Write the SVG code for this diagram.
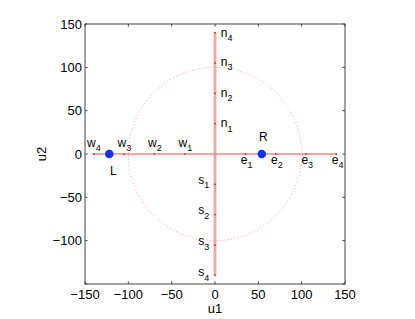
<svg xmlns="http://www.w3.org/2000/svg" width="415" height="319" viewBox="0 0 415 319">
<style>
.ax{fill:none;stroke:#444;stroke-width:1}
.tk{stroke:#444;stroke-width:1}
.tl{font-family:"Liberation Sans",Arial,sans-serif;font-size:13px;fill:#000}
.lb{font-family:"Liberation Sans",Arial,sans-serif;font-size:12px;fill:#000}
.sb{font-size:9px}
.band{stroke:#ffb0b0;fill:none}
.core{stroke:#ff7070;stroke-width:0.4;fill:none}
.pt{fill:#ff3030}
.bd{fill:#1030ff}
.circ{fill:none;stroke:#ff9090;stroke-width:1;stroke-dasharray:1 2.5}
</style>
<rect x="0" y="0" width="415" height="319" fill="#fff"/>
<g id="axes">
<rect class="ax" x="85" y="24" width="260" height="260"/>
<path class="tk" d="M85,284v-2.6M128.33,284v-2.6M171.67,284v-2.6M215,284v-2.6M258.33,284v-2.6M301.67,284v-2.6M345,284v-2.6M85,24v2.6M128.33,24v2.6M171.67,24v2.6M215,24v2.6M258.33,24v2.6M301.67,24v2.6M345,24v2.6M85,24h2.6M85,67.33h2.6M85,110.67h2.6M85,154h2.6M85,197.33h2.6M85,240.67h2.6M85,284h2.6M345,24h-2.6M345,67.33h-2.6M345,110.67h-2.6M345,154h-2.6M345,197.33h-2.6M345,240.67h-2.6M345,284h-2.6"/>
<g class="tl" text-anchor="middle">
<text x="85" y="298.5">−150</text>
<text x="128.33" y="298.5">−100</text>
<text x="171.67" y="298.5">−50</text>
<text x="215" y="298.5">0</text>
<text x="258.33" y="298.5">50</text>
<text x="301.67" y="298.5">100</text>
<text x="345" y="298.5">150</text>
<text x="215" y="313">u1</text>
</g>
<g class="tl" text-anchor="end">
<text x="82" y="28.7">150</text>
<text x="82" y="72">100</text>
<text x="82" y="115.4">50</text>
<text x="82" y="158.7">0</text>
<text x="82" y="202">−50</text>
<text x="82" y="245.4">−100</text>
</g>
<text class="tl" text-anchor="middle" transform="translate(46,154) rotate(-90)">u2</text>
</g>
<g id="connectors">
<circle class="circ" cx="215" cy="154" r="86.67"/>
<path class="band" stroke-width="2" d="M93.67,154H336.33"/>
<path class="band" stroke-width="3" d="M215,32.67V275.33"/>
<path class="core" d="M93.67,154H336.33M215,32.67V275.33"/>
</g>
<g id="w4"><rect class="pt" x="92.9" y="153" width="1.5" height="2"/><text class="lb" x="87" y="146.5">w<tspan class="sb" dy="4">4</tspan></text></g>
<g id="w3"><rect class="pt" x="123.3" y="153" width="1.5" height="2"/><text class="lb" x="117.5" y="146.5">w<tspan class="sb" dy="4">3</tspan></text></g>
<g id="w2"><rect class="pt" x="153.6" y="153" width="1.5" height="2"/><text class="lb" x="148" y="146.5">w<tspan class="sb" dy="4">2</tspan></text></g>
<g id="w1"><rect class="pt" x="183.9" y="153" width="1.5" height="2"/><text class="lb" x="178.5" y="146.5">w<tspan class="sb" dy="4">1</tspan></text></g>
<g id="e1"><rect class="pt" x="244.6" y="153" width="1.5" height="2"/><text class="lb" x="240.7" y="164">e<tspan class="sb" dy="4">1</tspan></text></g>
<g id="e2"><rect class="pt" x="274.9" y="153" width="1.5" height="2"/><text class="lb" x="271" y="164">e<tspan class="sb" dy="4">2</tspan></text></g>
<g id="e3"><rect class="pt" x="305.3" y="153" width="1.5" height="2"/><text class="lb" x="301.4" y="164">e<tspan class="sb" dy="4">3</tspan></text></g>
<g id="e4"><rect class="pt" x="335.6" y="153" width="1.5" height="2"/><text class="lb" x="331.7" y="164">e<tspan class="sb" dy="4">4</tspan></text></g>
<g id="n1"><rect class="pt" x="214" y="122.9" width="2" height="1.5"/><text class="lb" x="220.7" y="127">n<tspan class="sb" dy="4.5">1</tspan></text></g>
<g id="n2"><rect class="pt" x="214" y="92.6" width="2" height="1.5"/><text class="lb" x="220.7" y="96.5">n<tspan class="sb" dy="4.5">2</tspan></text></g>
<g id="n3"><rect class="pt" x="214" y="62.3" width="2" height="1.5"/><text class="lb" x="220.7" y="65.5">n<tspan class="sb" dy="4.5">3</tspan></text></g>
<g id="n4"><rect class="pt" x="214" y="31.9" width="2" height="1.5"/><text class="lb" x="220.7" y="36.5">n<tspan class="sb" dy="4.5">4</tspan></text></g>
<g id="s1"><rect class="pt" x="214" y="183.6" width="2" height="1.5"/><text class="lb" x="198.3" y="183.5">s<tspan class="sb" dy="4.5">1</tspan></text></g>
<g id="s2"><rect class="pt" x="214" y="213.9" width="2" height="1.5"/><text class="lb" x="198.3" y="214">s<tspan class="sb" dy="4.5">2</tspan></text></g>
<g id="s3"><rect class="pt" x="214" y="244.3" width="2" height="1.5"/><text class="lb" x="198.3" y="245">s<tspan class="sb" dy="4.5">3</tspan></text></g>
<g id="s4"><rect class="pt" x="214" y="274.6" width="2" height="1.5"/><text class="lb" x="198.3" y="276">s<tspan class="sb" dy="4.5">4</tspan></text></g>
<g id="L"><circle class="bd" cx="109.3" cy="154" r="4.3"/><text class="lb" x="113.3" y="174.5" text-anchor="middle">L</text></g>
<g id="R"><circle class="bd" cx="261.8" cy="154" r="4.3"/><text class="lb" x="263.3" y="140.5" text-anchor="middle">R</text></g>
</svg>
